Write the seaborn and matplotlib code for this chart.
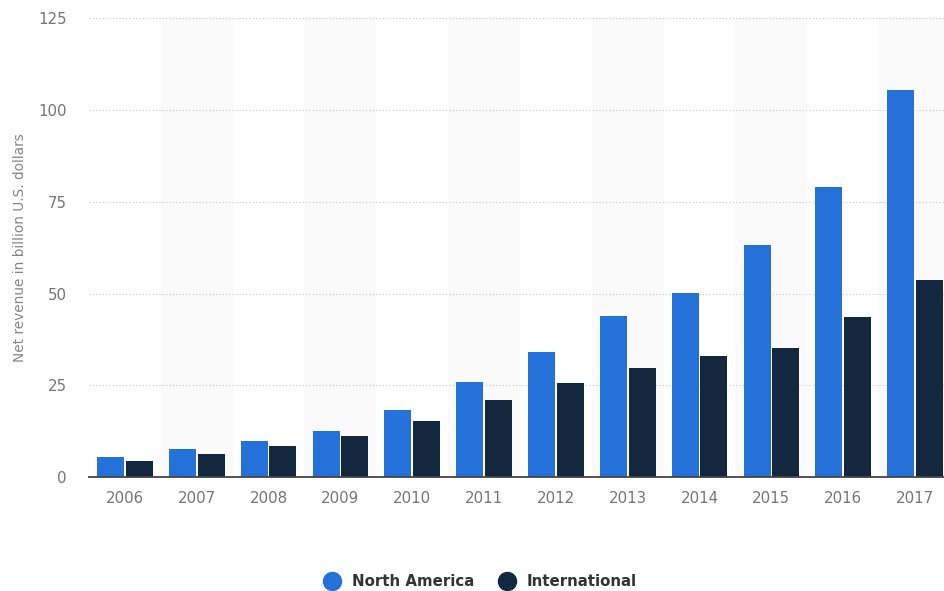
import matplotlib
matplotlib.use("Agg")
import matplotlib.pyplot as plt
import seaborn as sns
import pandas as pd
from matplotlib.lines import Line2D

years = ["2006", "2007", "2008", "2009", "2010", "2011", "2012", "2013", "2014", "2015", "2016", "2017"]
north_america = [5.5, 7.8, 9.8, 12.5, 18.2, 26.0, 34.2, 44.0, 50.2, 63.1, 79.0, 105.4]
international = [4.4, 6.3, 8.6, 11.3, 15.2, 21.0, 25.7, 29.7, 33.1, 35.1, 43.5, 53.7]
series = ["North America", "International"]
colors = ["#2472d9", "#13283f"]

df = pd.DataFrame({
    "year": years * 2,
    "value": north_america + international,
    "series": [series[0]] * len(years) + [series[1]] * len(years),
})

sns.set_theme(style="white")
plt.rcParams['font.family'] = ['DejaVu Sans']

fig = plt.figure(figsize=(9.44, 5.91), dpi=100)
ax = fig.add_axes([89/944, 113.7/591, 862/944, 459.3/591])

for i in range(len(years)):
    if i % 2 == 1:
        ax.axvspan(i - 0.5, i + 0.5, color="#fafafa", zorder=0, lw=0)

sns.barplot(data=df, x="year", y="value", hue="series", palette=colors,
            width=0.8, gap=0.06, ax=ax, legend=False, zorder=3,
            edgecolor="none", saturation=1)

ax.set_xlim(-0.5, len(years) - 0.5)
ax.set_ylim(0, 125)
ax.set_yticks([0, 25, 50, 75, 100, 125])
ax.yaxis.grid(True, linestyle=(0, (1, 2)), color="#c8c8c8", linewidth=0.8, zorder=1)
ax.set_axisbelow(True)
for s in ["top", "right", "left"]:
    ax.spines[s].set_visible(False)
ax.spines["bottom"].set_color("#444444")
ax.spines["bottom"].set_linewidth(1.3)
ax.spines["bottom"].set_zorder(5)
ax.tick_params(axis="both", length=0, colors="#757575", labelsize=10.8)
ax.tick_params(axis="x", pad=10)
ax.tick_params(axis="y", pad=16)
ax.set_xlabel("")
ax.set_ylabel("Net revenue in billion U.S. dollars", color="#858585", fontsize=9.8)
ax.yaxis.set_label_coords(-0.072, 0.5)

handles = [Line2D([0], [0], marker="o", linestyle="none", markersize=13,
                  markerfacecolor=c, markeredgecolor=c) for c in colors]
fig.legend(handles, series, loc="center", bbox_to_anchor=(477/944, 1 - 582/591),
           ncol=2, frameon=False, handletextpad=0.3, columnspacing=1.2,
           prop={"weight": "bold", "size": 10.8})
for t in fig.legends[0].get_texts():
    t.set_color("#333333")

fig.savefig("out.png", dpi=100)
